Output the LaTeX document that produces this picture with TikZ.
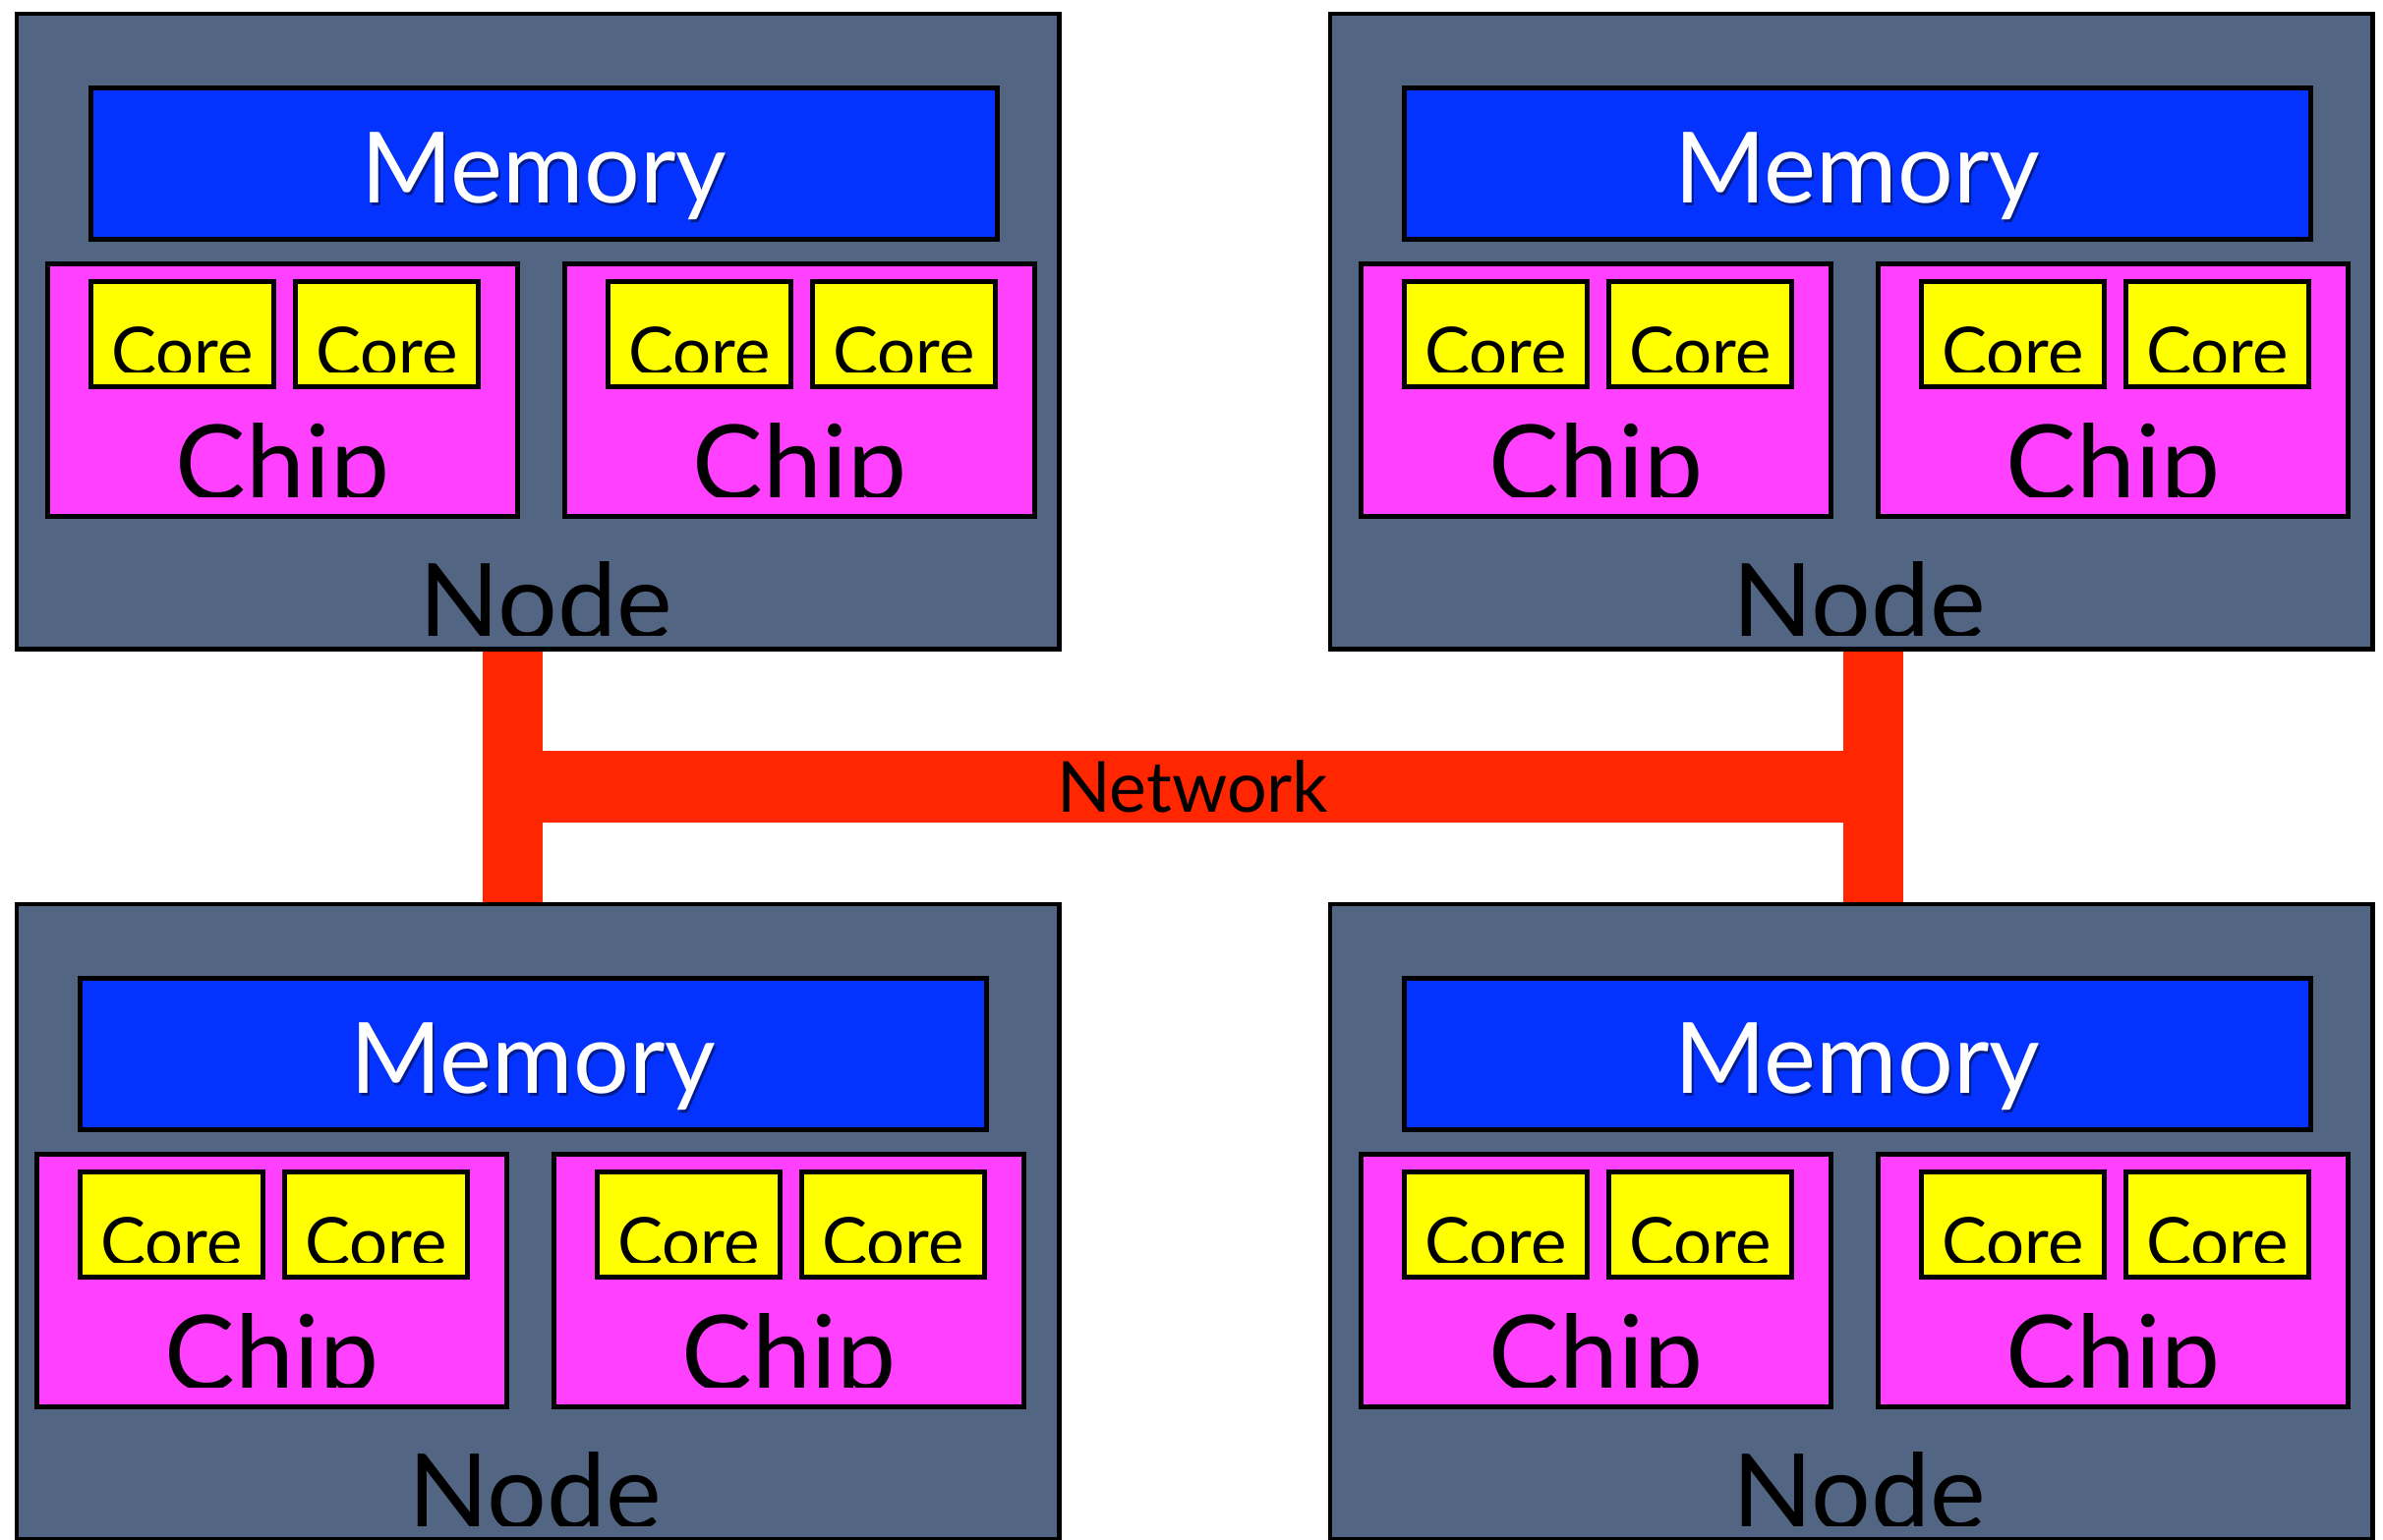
\documentclass[tikz,border=0pt]{standalone}
\usepackage{fontspec}
\setmainfont{Lato}
\usepackage{tikz}
\usetikzlibrary{positioning, calc, backgrounds}

\definecolor{slate}{RGB}{82,101,131}
\definecolor{memblue}{RGB}{4,51,255}
\definecolor{chippink}{RGB}{255,64,255}
\definecolor{coreyellow}{RGB}{255,255,0}
\definecolor{netred}{RGB}{255,38,0}

\tikzset{
  box/.style={rectangle, draw=black, line width=1.4pt, inner sep=0pt, outer sep=0pt, anchor=north west},
  nodebox/.style={box, fill=slate, minimum width=10.60cm, minimum height=6.46cm},
  membox/.style={box, fill=memblue, minimum width=9.21cm, minimum height=1.54cm},
  chipbox/.style={box, fill=chippink, minimum width=4.78cm, minimum height=2.57cm},
  corebox/.style={box, fill=coreyellow, minimum width=1.86cm, minimum height=1.07cm},
  lbl/.style={anchor=base, inner sep=0pt, outer sep=0pt},
  biglbl/.style={lbl, font=\fontsize{30.5pt}{31pt}\selectfont},
  memlbl/.style={lbl, font=\fontsize{28.5pt}{29pt}\selectfont},
  corelbl/.style={lbl, font=\fontsize{19.6pt}{20pt}\selectfont},
  netbar/.style={rectangle, fill=netred, inner sep=0pt, anchor=north west,
    minimum width=14.42cm, minimum height=0.73cm, font=\fontsize{20.4pt}{21pt}\selectfont},
  netline/.style={draw=netred, line width=0.61cm}
}

\begin{document}
\begin{tikzpicture}[x=0.01cm, y=-0.01cm]
\useasboundingbox (0,0) rectangle (2424,1566);

% the four nodes
\foreach \nx/\ny/\ix/\nm in {17/14/17/tl, 1353/14/1353/tr, 17/920/6/bl, 1353/920/1353/br} {
  \node[nodebox] (\nm) at (\nx,\ny) {};
  \begin{scope}
    \clip (\nm.north west) rectangle ($(\nm.north east)+(0,632)$);
    \node[biglbl] (\nm-t) at (\ix+538, \ny+636) {Node};
  \end{scope}
  % memory
  \node[membox] (\nm-mem) at (\ix+75.5, \ny+75.5) {};
  \node[memlbl, text=black, opacity=0.45] (\nm-mem-s) at ($(\nm-mem.north)+(2,119.5)$) {Memory};
  \node[memlbl, text=white] (\nm-mem-t) at ($(\nm-mem.north)+(0,116.5)$) {Memory};
  % chips and cores
  \foreach \c/\cx in {1/31.5, 2/557.5} {
    \node[chipbox] (\nm-chip\c) at (\ix+\cx, \ny+254.5) {};
    \begin{scope}
      \clip (\nm-chip\c.north west) rectangle ($(\nm-chip\c.north east)+(0,236.5)$);
      \node[biglbl] (\nm-chip\c-t) at ($(\nm-chip\c.north)+(0,240.5)$) {Chip};
    \end{scope}
    \foreach \k/\kx in {1/44, 2/252} {
      \node[corebox] (\nm-core\c\k) at ($(\nm-chip\c.north west)+(\kx,18)$) {};
      \begin{scope}
        \clip (\nm-core\c\k.north west) rectangle ($(\nm-core\c\k.north east)+(0,92)$);
        \node[corelbl] (\nm-core\c\k-t) at ($(\nm-core\c\k.north)+(0,96)$) {Core};
      \end{scope}
    }
  }
}

% network
\node[netbar] (net) at (491,763) {Network};
\begin{scope}[on background layer]
  \draw[netline] ([xshift=-0.255cm]tl.south) -- ([xshift=-0.255cm]bl.north);
  \draw[netline] ([xshift=0.22cm]tr.south) -- ([xshift=0.22cm]br.north);
\end{scope}
\end{tikzpicture}
\end{document}
